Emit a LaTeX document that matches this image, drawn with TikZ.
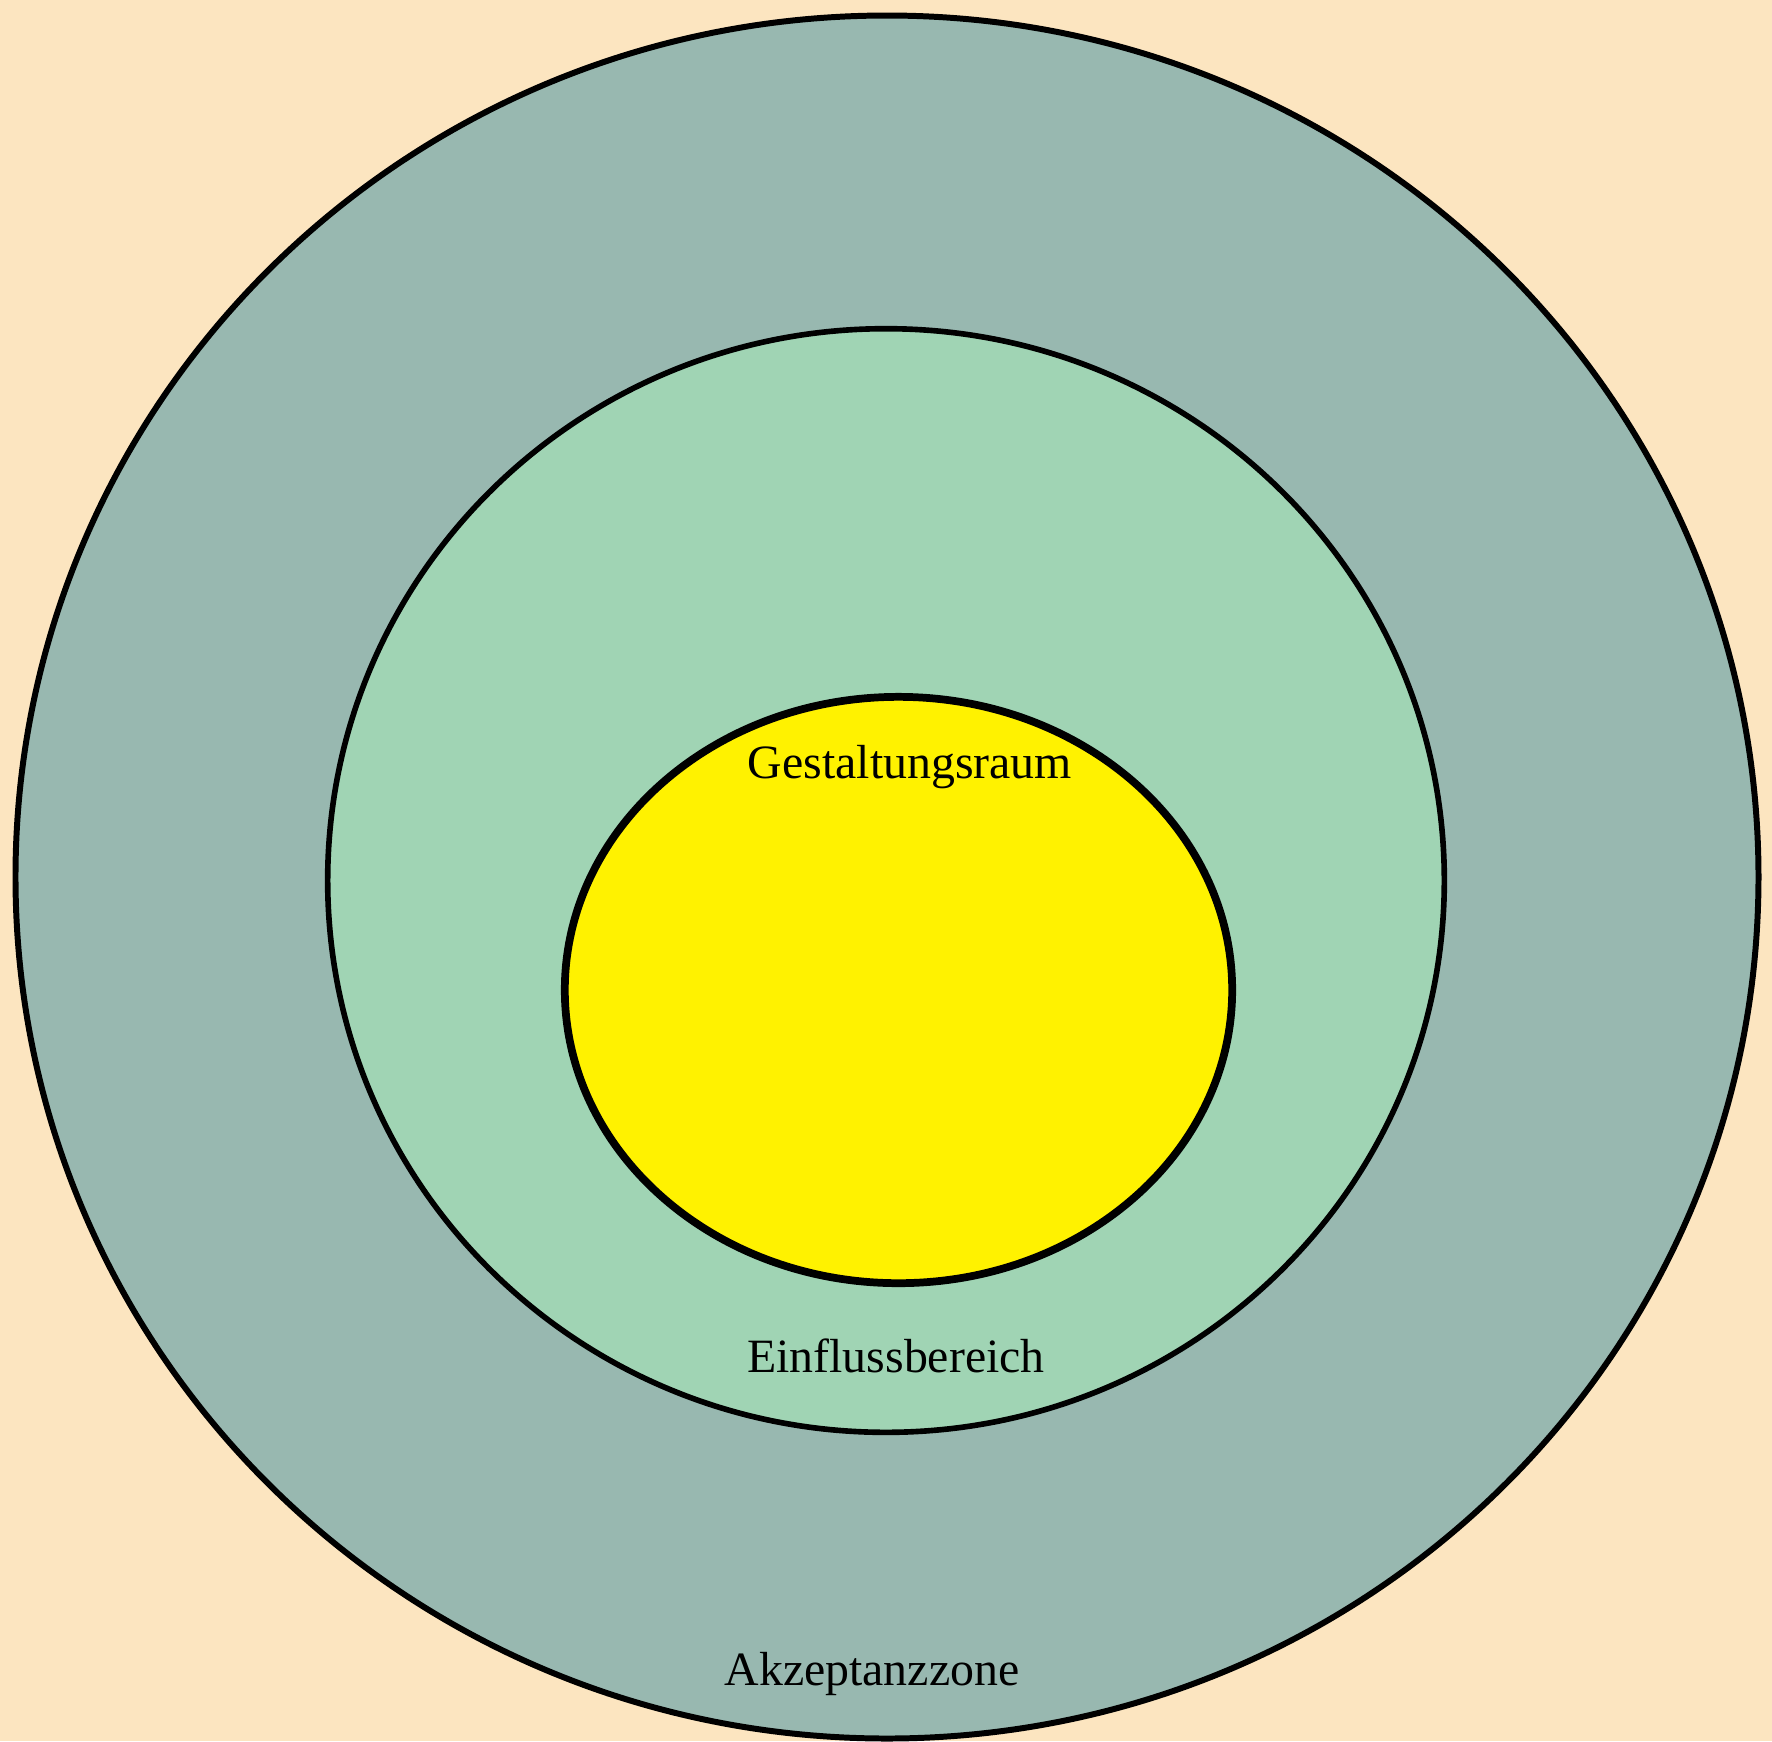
\documentclass[tikz,border=0pt]{standalone}
\usepackage{fontspec}
\setmainfont{Liberation Serif}
\usetikzlibrary{shapes.geometric}
\definecolor{bgpeach}{HTML}{FCE5C0}
\definecolor{outerzone}{HTML}{98B8B0}
\definecolor{midzone}{HTML}{A0D4B4}
\definecolor{innerzone}{HTML}{FFF200}
\tikzset{
  zone/.style={ellipse, draw=black, inner sep=0pt, outer sep=0pt},
  lbl/.style={anchor=base, inner sep=0pt, font=\fontsize{13.6pt}{16pt}\selectfont, text=black}
}
\begin{document}
\begin{tikzpicture}[x=0.01cm,y=-0.01cm]
\fill[bgpeach] (0,0) rectangle (1772,1741);
\useasboundingbox (0,0) rectangle (1772,1741);
\node[zone, fill=outerzone, line width=1.7pt, minimum width=17.42cm, minimum height=17.22cm] (outer) at (887,877) {};
\node[zone, fill=midzone, line width=1.6pt, minimum width=11.16cm, minimum height=11.03cm] (middle) at (886,880.5) {};
\node[zone, fill=innerzone, line width=2.2pt, minimum width=6.67cm, minimum height=5.86cm] (inner) at (898.5,990) {};
\node[lbl] (gestalt) at (910,778) {Gestaltungsraum};
\node[lbl] (einfluss) at (896,1372) {Einflussbereich};
\node[lbl] (akzeptanz) at (872,1685) {Akzeptanzzone};
\end{tikzpicture}
\end{document}
